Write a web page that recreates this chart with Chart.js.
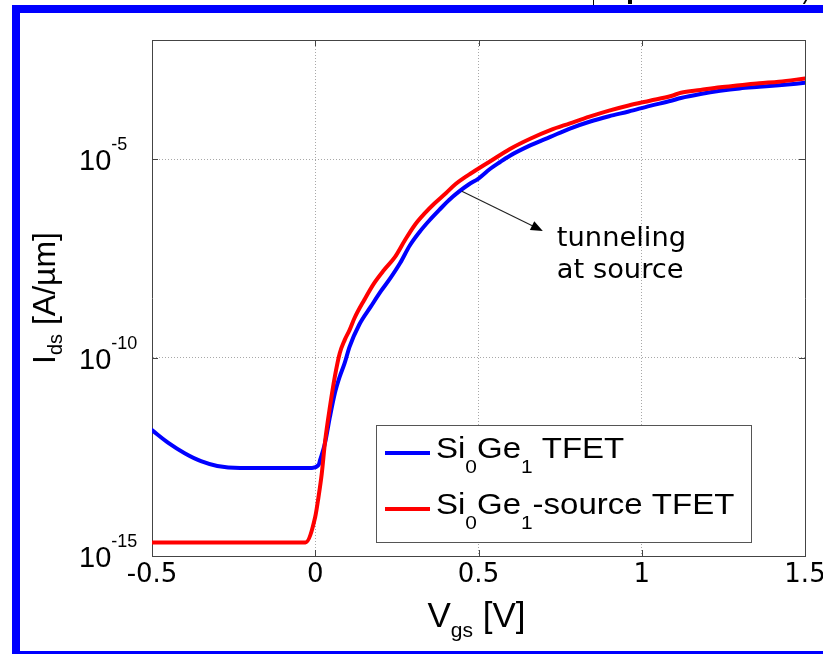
<!DOCTYPE html>
<html><head><meta charset="utf-8">
<script src="https://cdn.jsdelivr.net/npm/chart.js@4.4.1/dist/chart.umd.min.js"></script>
<style>
html,body{margin:0;padding:0;background:#fff;}
#wrap{position:relative;width:823px;height:654px;overflow:hidden;background:#fff;}
canvas{position:absolute;left:0;top:0;}
.f{position:absolute;background:#0000ff;}
.k{position:absolute;background:#000;}
</style></head><body>
<div id="wrap">
<canvas id="c" width="823" height="654"></canvas>
<div class="f" style="left:12px;top:5px;width:811px;height:8px"></div>
<div class="f" style="left:12px;top:5px;width:8px;height:649px"></div>
<div class="f" style="left:12px;top:651px;width:811px;height:3px"></div>
<div class="k" style="left:593px;top:0;width:1px;height:5px"></div>
<div class="k" style="left:628px;top:0;width:4px;height:4px"></div>
<div class="k" style="left:804px;top:0;width:2px;height:4px;transform:skewX(-30deg)"></div>
</div>
<script>
// ---- data (Vgs in V, Ids in A/um) ----
const vgsBlue = [-0.50,-0.45,-0.40,-0.35,-0.30,-0.23,-0.10,-0.01,0.01,0.015,0.03,0.045,0.06,0.075,0.09,0.105,0.135,0.17,0.20,0.23,0.26,0.29,0.32,0.35,0.38,0.41,0.44,0.47,0.50,0.535,0.565,0.595,0.66,0.72,0.78,0.84,0.90,0.96,1.025,1.09,1.12,1.18,1.24,1.30,1.36,1.42,1.50];
const idsBlue = [1.48e-12,7.08e-13,3.89e-13,2.45e-13,1.86e-13,1.66e-13,1.66e-13,1.66e-13,1.95e-13,2.63e-13,7.08e-13,3.24e-12,1.26e-11,3.31e-11,7.24e-11,1.86e-10,6.8e-10,1.91e-9,4.57e-9,1.00e-8,2.40e-8,6.76e-8,1.48e-7,2.88e-7,5.25e-7,9.33e-7,1.51e-6,2.29e-6,3.24e-6,5.62e-6,8.32e-6,1.20e-5,2.24e-5,3.63e-5,5.89e-5,8.71e-5,1.20e-4,1.58e-4,2.19e-4,2.95e-4,3.47e-4,4.37e-4,5.25e-4,6.03e-4,6.61e-4,7.24e-4,8.32e-4];
const vgsRed = [-0.50,-0.03,0.00,0.01,0.02,0.03,0.045,0.06,0.075,0.09,0.105,0.12,0.15,0.18,0.21,0.245,0.275,0.305,0.335,0.365,0.40,0.43,0.46,0.475,0.535,0.595,0.66,0.72,0.78,0.84,0.90,0.96,1.025,1.09,1.12,1.18,1.24,1.30,1.36,1.42,1.50];
const idsRed = [2.19e-15,2.19e-15,9.77e-15,3.09e-14,1.20e-13,7.59e-13,5.75e-12,3.31e-11,1.29e-10,2.75e-10,4.90e-10,9.77e-10,2.82e-9,7.41e-9,1.58e-8,3.47e-8,9.12e-8,2.19e-7,4.27e-7,7.59e-7,1.38e-6,2.35e-6,3.55e-6,4.27e-6,8.71e-6,1.78e-5,3.31e-5,5.37e-5,7.94e-5,1.17e-4,1.66e-4,2.24e-4,2.95e-4,3.89e-4,4.68e-4,5.50e-4,6.46e-4,7.24e-4,8.13e-4,8.91e-4,1.07e-3];

const seriesLabels = ['Si0Ge1 TFET','Si0Ge1-source TFET'];
const legendParts = [
  [['Si','m'],['0','s'],['Ge','m'],['1','s'],[' TFET','m']],
  [['Si','m'],['0','s'],['Ge','m'],['1','s'],['-source TFET','m']]
];
const xTickValues = [-0.5,0,0.5,1,1.5];
const xTickLabels = ['-0.5','0','0.5','1','1.5'];
const yTickValues = [1e-15,1e-10,1e-5];
const yTickBase = ['10','10','10'];
const yTickExp = ['-15','-10','-5'];
const xTitleParts = [['V','m'],['gs','s'],[' [V]','m']];
const yTitleParts = [['I','m'],['ds','s'],[' [A/\u00b5m]','m']];
const noteLines = ['tunneling','at source'];
const noteTail = {x:0.449, y:1.55e-6};
const noteHead = {x:0.697, y:1.55e-7};

const BLUE = '#0000ff', RED = '#ff0000';
const SANS = "'Liberation Sans', Arial, sans-serif";

function drawRich(ctx, parts, x, y, o) {
  ctx.save();
  ctx.translate(x, y);
  if (o.rot) ctx.rotate(o.rot);
  ctx.scale(o.sx || 1, 1);
  ctx.textBaseline = 'alphabetic';
  ctx.textAlign = 'left';
  ctx.fillStyle = '#000';
  const items = parts.map(([t, k]) => {
    const size = k === 'm' ? o.main : o.sub;
    ctx.font = size + 'px ' + o.family;
    return {t, size, w: ctx.measureText(t).width, dy: k === 'm' ? 0 : o.subDy};
  });
  const total = items.reduce((a, b) => a + b.w, 0);
  let cx = o.align === 'center' ? -total / 2 : 0;
  for (const it of items) {
    ctx.font = it.size + 'px ' + o.family;
    ctx.fillText(it.t, cx, it.dy);
    cx += it.w;
  }
  ctx.restore();
}

const decor = {
  id: 'decor',
  afterDraw(chart) {
    const {ctx, chartArea: a, scales: {x, y}} = chart;
    ctx.save();
    ctx.strokeStyle = '#444'; ctx.lineWidth = 1;
    ctx.beginPath();
    ctx.moveTo(a.left, a.top + 0.5); ctx.lineTo(a.right + 0.5, a.top + 0.5);
    ctx.lineTo(a.right + 0.5, a.bottom);
    ctx.stroke();
    ctx.beginPath();
    for (const v of xTickValues) {
      const px = Math.round(x.getPixelForValue(v)) + 0.5;
      ctx.moveTo(px, a.bottom); ctx.lineTo(px, a.bottom - 6);
      ctx.moveTo(px, a.top); ctx.lineTo(px, a.top + 6);
    }
    for (const v of yTickValues) {
      const py = Math.round(y.getPixelForValue(v)) + 0.5;
      ctx.moveTo(a.left, py); ctx.lineTo(a.left + 6, py);
      ctx.moveTo(a.right, py); ctx.lineTo(a.right - 6, py);
    }
    ctx.stroke();
    ctx.restore();

    yTickValues.forEach((v, i) => {
      const py = y.getPixelForValue(v);
      drawRich(ctx, [[yTickBase[i], 'm'], [yTickExp[i], 's']], 79, py + 11,
        {family: SANS, main: 29, sub: 18, subDy: -20, align: 'left'});
    });

    drawRich(ctx, xTitleParts, (a.left + a.right) / 2 - 2, 627,
      {family: SANS, main: 35, sub: 21, subDy: 10, align: 'center'});
    drawRich(ctx, yTitleParts, 55, (a.top + a.bottom) / 2,
      {family: SANS, main: 32, sub: 20, subDy: 7, align: 'center', rot: -Math.PI / 2});

    ctx.save();
    ctx.fillStyle = '#fff';
    ctx.fillRect(376, 425, 375, 117);
    ctx.strokeStyle = '#555'; ctx.lineWidth = 1;
    ctx.strokeRect(376.5, 425.5, 375, 117);
    ctx.lineWidth = 4;
    [[BLUE, 453], [RED, 509]].forEach(([c, ly]) => {
      ctx.strokeStyle = c;
      ctx.beginPath(); ctx.moveTo(385, ly); ctx.lineTo(430, ly); ctx.stroke();
    });
    ctx.restore();
    drawRich(ctx, legendParts[0], 436, 458, {family: SANS, main: 30, sub: 19, subDy: 15, sx: 1.1});
    drawRich(ctx, legendParts[1], 436, 514, {family: SANS, main: 30, sub: 19, subDy: 15, sx: 1.1});

    const tx = x.getPixelForValue(noteTail.x), ty = y.getPixelForValue(noteTail.y);
    const hx = x.getPixelForValue(noteHead.x), hy = y.getPixelForValue(noteHead.y);
    const ang = Math.atan2(hy - ty, hx - tx);
    ctx.save();
    ctx.strokeStyle = '#222'; ctx.fillStyle = '#000'; ctx.lineWidth = 1.2;
    ctx.beginPath(); ctx.moveTo(tx, ty);
    ctx.lineTo(hx - 10 * Math.cos(ang), hy - 10 * Math.sin(ang)); ctx.stroke();
    ctx.beginPath();
    ctx.moveTo(hx, hy);
    ctx.lineTo(hx - 12 * Math.cos(ang) + 5 * Math.sin(ang), hy - 12 * Math.sin(ang) - 5 * Math.cos(ang));
    ctx.lineTo(hx - 12 * Math.cos(ang) - 5 * Math.sin(ang), hy - 12 * Math.sin(ang) + 5 * Math.cos(ang));
    ctx.closePath(); ctx.fill();
    ctx.restore();
    noteLines.forEach((t, i) => {
      drawRich(ctx, [[t, 'm']], hx + 14, hy + 15 + i * 32, {family: "'DejaVu Sans', Verdana, sans-serif", main: 26, sub: 18, subDy: 0, sx: 1.05});
    });
  }
};

new Chart(document.getElementById('c'), {
  type: 'line',
  data: {
    datasets: [
      {label: seriesLabels[0], data: vgsBlue.map((v, i) => ({x: v, y: idsBlue[i]})),
       borderColor: BLUE, backgroundColor: BLUE, borderWidth: 4, pointRadius: 0, cubicInterpolationMode: 'monotone', order: 2,
       borderJoinStyle: 'round', borderCapStyle: 'round'},
      {label: seriesLabels[1], data: vgsRed.map((v, i) => ({x: v, y: idsRed[i]})),
       borderColor: RED, backgroundColor: RED, borderWidth: 4, pointRadius: 0, cubicInterpolationMode: 'monotone', order: 1,
       borderJoinStyle: 'round', borderCapStyle: 'round'}
    ]
  },
  options: {
    responsive: false, animation: false, devicePixelRatio: 1,
    layout: {padding: {left: 0, right: 18, top: 40, bottom: 0}},
    plugins: {legend: {display: false}, tooltip: {enabled: false}},
    scales: {
      x: {
        type: 'linear', min: -0.5, max: 1.5,
        afterBuildTicks: s => { s.ticks = xTickValues.map(v => ({value: v})); },
        afterFit: s => { s.height = 98; s.paddingLeft = 0; s.paddingRight = 0; },
        ticks: {callback: v => xTickLabels[xTickValues.indexOf(v)], font: {family: 'DejaVu Sans', size: 26},
                color: '#000', padding: 4, maxRotation: 0, autoSkip: false},
        grid: {color: c => (c.tick && (c.tick.value === -0.5 || c.tick.value === 1.5)) ? 'rgba(0,0,0,0)' : '#a8a8a8',
               lineWidth: 1, drawTicks: false},
        border: {display: true, color: '#444', width: 1, dash: [1, 2]}
      },
      y: {
        type: 'logarithmic', min: 1e-15, max: 1e-2,
        afterBuildTicks: s => { s.ticks = yTickValues.map(v => ({value: v})); },
        afterFit: s => { s.width = 152; s.paddingTop = 0; s.paddingBottom = 0; },
        ticks: {display: false},
        grid: {color: c => (c.tick && c.tick.value === 1e-15) ? 'rgba(0,0,0,0)' : '#a8a8a8', lineWidth: 1, drawTicks: false},
        border: {display: true, color: '#444', width: 1, dash: [1, 2]}
      }
    }
  },
  plugins: [decor]
});
</script>
</body></html>
